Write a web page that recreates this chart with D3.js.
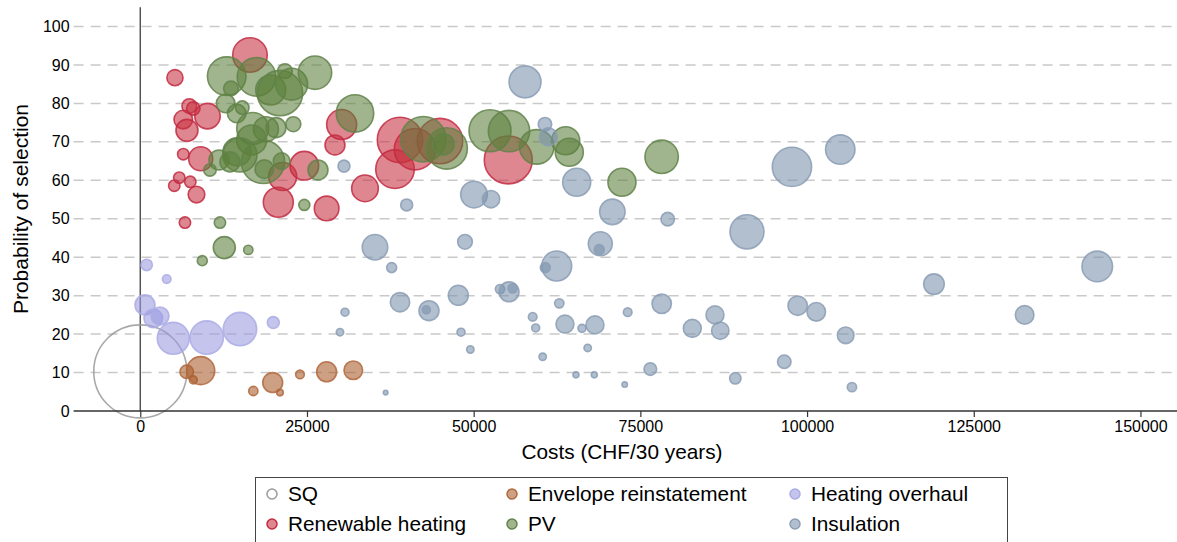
<!DOCTYPE html>
<meta charset="utf-8">
<svg width="1177" height="542"></svg>
<script src="https://cdn.jsdelivr.net/npm/d3@7"></script>
<style>
    body { margin: 0; background: #fff; }
    svg { display: block; font-family: "Liberation Sans", Arial, sans-serif; }
</style>
<script>
// each point: [cost (CHF/30 years), probability of selection, weight]
var sqPoints = [[0, 10.3, 100]];

var envelopePoints = [
    [6960, 10.2, 2.1], [7950, 8.1, 0.74], [9060, 10.5, 9.1], [16950, 5.2, 1.0],
    [19860, 7.4, 4.6], [20950, 4.8, 0.5], [23950, 9.5, 0.86], [27950, 10.2, 4.6],
    [31945, 10.6, 4.0]
];

var overhaulPoints = [
    [960, 38.0, 1.5], [3960, 34.3, 0.86], [705, 27.6, 4.6], [1950, 24.1, 4.0],
    [2955, 24.7, 3.75], [4950, 18.9, 11.8], [9960, 19.1, 12.9], [14950, 21.3, 12.9],
    [19950, 23.0, 1.66]
];

var renewablePoints = [
    [16450, 92.6, 13.8], [5200, 86.7, 3.0], [7350, 79.3, 2.5], [7950, 78.7, 2.1],
    [10080, 76.7, 7.5], [6450, 75.8, 4.0], [7000, 73.0, 5.6], [6450, 66.8, 1.5],
    [9060, 65.6, 6.7], [5850, 60.7, 1.5], [5100, 58.6, 1.5], [7500, 59.6, 1.5],
    [8430, 56.3, 3.2], [6700, 49.0, 1.5], [20700, 54.3, 10.4], [21350, 61.0, 9.1],
    [24600, 63.8, 9.5], [27950, 52.7, 7.0], [29200, 69.2, 4.6], [30200, 74.5, 10.4],
    [33700, 57.9, 8.2], [38950, 70.5, 23.8], [38200, 62.9, 17.2], [41200, 68.1, 19.8],
    [44950, 70.2, 23.8], [55190, 65.3, 26.6]
];

var pvPoints = [
    [12960, 87.1, 17.2], [13600, 83.9, 2.5], [17430, 86.9, 17.2], [21700, 88.4, 2.5],
    [19560, 83.5, 10.4], [20950, 82.7, 23.8], [22700, 85.0, 11.8], [26200, 88.0, 12.9],
    [12800, 80.0, 4.0], [14460, 77.4, 4.0], [15300, 78.9, 2.1], [16860, 73.5, 11.8],
    [18850, 73.3, 7.2], [20350, 73.7, 4.6], [22950, 74.6, 2.6], [16700, 70.5, 10.4],
    [14500, 67.4, 9.1], [14950, 66.6, 13.4], [11800, 65.3, 4.6], [10450, 62.7, 1.8],
    [13450, 64.8, 4.6], [18400, 64.8, 21.8], [18600, 62.9, 4.0], [21200, 65.0, 3.2],
    [26650, 62.7, 4.6], [24600, 53.6, 1.4], [11950, 49.0, 1.5], [12600, 42.5, 5.6],
    [16200, 41.9, 1.0], [9300, 39.1, 1.16], [32200, 77.4, 16.2], [42450, 70.7, 23.8],
    [45950, 68.3, 19.8], [45450, 69.4, 5.3], [52450, 72.9, 20.4], [55300, 72.8, 19.8],
    [59450, 68.7, 13.8], [63800, 70.3, 9.1], [64340, 67.3, 9.1], [72240, 59.5, 9.1],
    [78190, 66.1, 12.9]
];

var insulationPoints = [
    [30550, 63.7, 1.66], [30700, 25.7, 0.74], [29950, 20.5, 0.63], [39950, 53.6, 1.66],
    [57700, 85.6, 11.8], [60690, 74.6, 2.1], [61190, 71.3, 3.75], [50050, 56.3, 8.2],
    [52600, 55.1, 3.5], [65450, 59.5, 9.1], [70800, 51.8, 7.5], [79100, 49.9, 2.1],
    [35200, 42.6, 7.5], [37700, 37.3, 1.16], [38950, 28.3, 4.35], [43300, 26.1, 4.6],
    [42900, 26.3, 0.74], [48700, 44.0, 2.5], [47700, 30.1, 4.6], [48100, 20.5, 0.74],
    [49500, 16.0, 0.63], [36800, 4.8, 0.25], [53950, 31.7, 1.0], [55300, 31.0, 4.6],
    [55850, 31.9, 1.0], [58850, 24.5, 0.86], [59300, 21.6, 0.74], [60350, 14.1, 0.63],
    [62450, 37.7, 10.4], [60740, 37.3, 1.16], [62840, 28.0, 1.0], [63690, 22.6, 3.75],
    [66240, 21.5, 0.74], [67100, 16.4, 0.63], [65340, 9.4, 0.42], [68090, 9.4, 0.42],
    [68190, 22.4, 3.75], [68990, 43.5, 6.66], [68840, 42.0, 1.16], [72650, 6.9, 0.34],
    [73100, 25.7, 0.86], [76490, 10.9, 1.84], [78200, 27.9, 4.35], [82790, 21.5, 3.75],
    [86190, 25.0, 3.75], [86980, 20.9, 3.5], [89240, 8.5, 1.5], [90990, 46.6, 13.4],
    [97730, 63.5, 17.9], [104980, 68.0, 10.0], [96580, 12.8, 2.1], [98590, 27.4, 4.35],
    [101380, 25.8, 4.0], [105790, 19.7, 3.2], [106730, 6.2, 1.0], [119030, 33.0, 4.9],
    [132630, 25.0, 4.0], [143520, 37.6, 10.8]
];

var xTicks = [0, 25000, 50000, 75000, 100000, 125000, 150000];
var yTicks = [0, 10, 20, 30, 40, 50, 60, 70, 80, 90, 100];

// drawing order = legend order
var series = [
    {name: "SQ", points: sqPoints, fill: "none", stroke: "#9a9a9a"},
    {name: "Envelope reinstatement", points: envelopePoints, fill: "#a85a2a", stroke: "#b0693e"},
    {name: "Heating overhaul", points: overhaulPoints, fill: "#9a9ae0", stroke: "#ababe6"},
    {name: "Renewable heating", points: renewablePoints, fill: "#c8303f", stroke: "#c22a42"},
    {name: "PV", points: pvPoints, fill: "#5b7f3a", stroke: "#62834a"},
    {name: "Insulation", points: insulationPoints, fill: "#7890aa", stroke: "#8b9eb5"}
];

var svg = d3.select("svg"),
    width = +svg.attr("width"),
    height = +svg.attr("height");

var x = d3.scaleLinear()
    .domain([-10000, 155000])
    .range([73.6, 1173.8]);

var y = d3.scaleLinear()
    .domain([0, 105])
    .range([411, 7.3]);

var r = d3.scaleSqrt()
    .domain([0, 100])
    .range([0, 46.5]);

// gridlines
svg.append("g")
    .selectAll("line")
    .data(yTicks.filter(function(d) { return d > 0; }))
    .enter().append("line")
    .attr("x1", x.range()[0])
    .attr("x2", width)
    .attr("y1", function(d) { return y(d); })
    .attr("y2", function(d) { return y(d); })
    .attr("stroke", "#c9c9c9")
    .attr("stroke-width", 1.5)
    .attr("stroke-dasharray", "10,7");

// line at zero cost
svg.append("line")
    .attr("x1", x(0)).attr("x2", x(0))
    .attr("y1", y.range()[1]).attr("y2", y(0))
    .attr("stroke", "#555")
    .attr("stroke-width", 1.5);

// bubbles
series.forEach(function(s) {
    svg.append("g")
        .selectAll("circle")
        .data(s.points)
        .enter().append("circle")
        .attr("cx", function(d) { return x(d[0]); })
        .attr("cy", function(d) { return y(d[1]); })
        .attr("r", function(d) { return r(d[2]); })
        .attr("fill", s.fill)
        .attr("fill-opacity", s.fill === "none" ? 0 : 0.58)
        .attr("stroke", s.stroke)
        .attr("stroke-opacity", 0.85)
        .attr("stroke-width", 1.6);
});

// x axis
var xAxis = svg.append("g")
    .attr("transform", "translate(0," + y(0) + ")")
    .call(d3.axisBottom(x).tickValues(xTicks).tickFormat(d3.format("d")).tickSize(6).tickPadding(4));
xAxis.select(".domain").remove();
xAxis.insert("line", ":first-child")
    .attr("x1", x.range()[0]).attr("x2", width)
    .attr("stroke", "#333").attr("stroke-width", 1.5);
xAxis.selectAll(".tick line").attr("stroke", "#333").attr("stroke-width", 1.2);
xAxis.selectAll("text").attr("fill", "#000").style("font-size", "16px")
    .style("font-family", "'Liberation Sans', Arial, sans-serif");

// y axis labels only
var yAxis = svg.append("g")
    .attr("transform", "translate(" + x.range()[0] + ",0)")
    .call(d3.axisLeft(y).tickValues(yTicks).tickSize(0).tickPadding(4));
yAxis.select(".domain").remove();
yAxis.selectAll("text").attr("fill", "#000").style("font-size", "16px")
    .style("font-family", "'Liberation Sans', Arial, sans-serif");

svg.append("text")
    .attr("x", 622)
    .attr("y", 459)
    .style("text-anchor", "middle")
    .style("font-size", "20.8px")
    .text("Costs (CHF/30 years)");

svg.append("text")
    .attr("transform", "translate(28,209) rotate(-90)")
    .style("text-anchor", "middle")
    .style("font-size", "21px")
    .text("Probability of selection");

// legend
var legend = svg.append("g");
legend.append("rect")
    .attr("x", 255.5).attr("y", 477.5)
    .attr("width", 752).attr("height", 80)
    .attr("fill", "#fff")
    .attr("stroke", "#444")
    .attr("stroke-width", 1);

var colX = [272, 512, 795],
    rowY = [494, 524];

series.forEach(function(s, i) {
    var cx = colX[i % 3], cy = rowY[Math.floor(i / 3)];
    legend.append("circle")
        .attr("cx", cx).attr("cy", cy).attr("r", 5)
        .attr("fill", s.fill)
        .attr("fill-opacity", s.fill === "none" ? 0 : 0.58)
        .attr("stroke", s.stroke)
        .attr("stroke-width", 1.5);
    legend.append("text")
        .attr("x", cx + 16).attr("y", cy)
        .attr("dy", "0.35em")
        .style("font-size", "20.8px")
        .text(s.name);
});
</script>
